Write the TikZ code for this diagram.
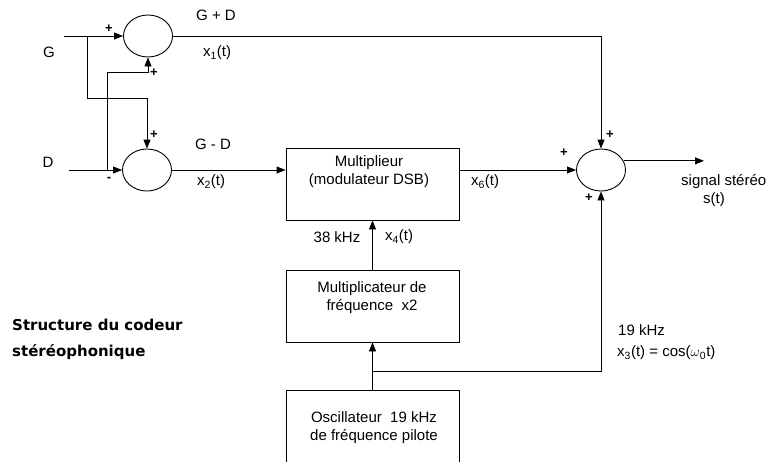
\documentclass[tikz,border=0pt]{standalone}
\usepackage{fontspec}
\setmainfont{Liberation Sans}
\newfontfamily\titlefont{DejaVu Sans}
\usetikzlibrary{arrows.meta,shapes.geometric,positioning}

\tikzset{
    sumnode/.style={draw, ellipse, line width=0.9pt, minimum width=49pt, minimum height=42pt, inner sep=0pt},
    blockbox/.style={draw, line width=0.9pt, minimum width=173pt, minimum height=72pt, inner sep=0pt},
    wire/.style={line width=0.9pt},
    flow/.style={wire, -{Triangle[length=9pt,width=7pt]}},
    lbl/.style={inner sep=0pt, align=center, font=\fontsize{15}{18}\selectfont},
    sgn/.style={inner sep=0pt, font=\fontsize{13}{13}\selectfont\bfseries}
}

\begin{document}
\begin{tikzpicture}[x=1pt, y=-1pt]
        \useasboundingbox (0,0) rectangle (773,461);
        \clip (0,0) rectangle (773,461);
        \node[sumnode] (sumA) at (148,36) {};
        \node[sumnode] (sumB) at (147,170) {};
        \node[sumnode] (sumC) at (601,170) {};
        \node[blockbox] (mult) at (372.5,184) {};
        \node[blockbox] (freqx) at (372.5,306) {};
        \node[blockbox, minimum height=90pt] (osc) at (372.5,435) {};
        \coordinate (gin) at (64,36);
        \coordinate (din) at (69,170);
        \coordinate (gtap) at (87,36);
        \coordinate (dtap) at (107,170);
        \coordinate (sout) at (704,0);

        \draw[flow] (gin) -- (sumA.west);
        \draw[flow] (din) -- (sumB.west);
        \draw[flow] (gtap) -- ++(0,62) -| (sumB.north);
        \draw[flow] (dtap) -- ++(0,-98) -| (sumA.south);
        \draw[flow] (sumA.east) -| (sumC.north);
        \draw[flow] (sumB.east) -- (sumB.east -| mult.west);
        \draw[flow] (sumC.west -| mult.east) -- (sumC.west);
        \draw[flow] (sumC.22) -- (sumC.22 -| sout);
        \draw[flow] (freqx.north) -- (mult.south);
        \draw[flow] (osc.north) -- (freqx.south);
        \draw[flow] (osc.north) ++(0,-18) -| (sumC.south);

        \node[lbl] (glbl) at (49,52) {G};
        \node[lbl] (dlbl) at (48,162) {D};
        \node[lbl] (sumlbl) at (216,15) {G + D};
        \node[lbl] (xone) at (217,53) {x\textsubscript{1}(t)};
        \node[lbl] (difflbl) at (213,144) {G - D};
        \node[lbl] (xtwo) at (211,182) {x\textsubscript{2}(t)};
        \node[lbl] (multtxt) at (369,171.5) {Multiplieur\\(modulateur DSB)};
        \node[lbl] (xsix) at (485,182) {x\textsubscript{6}(t)};
        \node[lbl] (khz38) at (337,237) {38 kHz};
        \node[lbl] (xfour) at (399,237) {x\textsubscript{4}(t)};
        \node[lbl] (freqtxt) at (372,298) {Multiplicateur de\\fréquence~ x2};
        \node[lbl] (osctxt) at (374,428) {Oscillateur~ 19 kHz\\de fréquence pilote};
        \node[lbl, anchor=west] (khz19) at (618,330) {19 kHz};
        \node[lbl, anchor=west] (xthree) at (617,353) {x\textsubscript{3}(t) = cos($\omega$\textsubscript{0}t)};
        \node[lbl, anchor=west] (outlbl) at (681,182) {signal stéréo};
        \node[lbl] (slbl) at (714,200) {s(t)};

        \node[sgn] at (109,29) {+};
        \node[sgn] at (154,73) {+};
        \node[sgn] at (154,135) {+};
        \node[sgn] at (109,179) {-};
        \node[sgn] at (610,135) {+};
        \node[sgn] at (564,153) {+};
        \node[sgn] at (589,198) {+};

        \node[inner sep=0pt, anchor=west, align=left, font=\titlefont\fontsize{15}{26}\selectfont\bfseries] (title) at (12,339) {Structure du codeur\\stéréophonique};
    \end{tikzpicture}
\end{document}
